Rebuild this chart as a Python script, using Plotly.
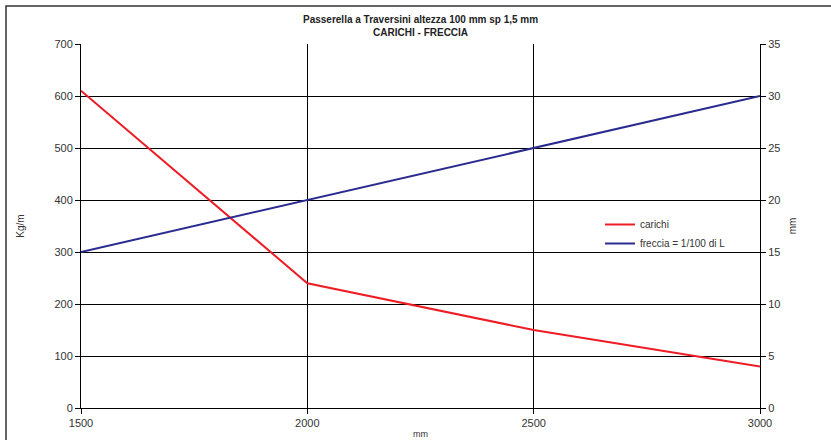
import plotly.graph_objects as go

lengths = [1500, 2000, 2500, 3000]
carichi = [610, 240, 150, 80]
freccia = [15, 20, 25, 30]

title_lines = ["Passerella a Traversini altezza 100 mm sp 1,5 mm", "CARICHI - FRECCIA"]

font_family = "Liberation Sans, Arial, sans-serif"

L, R, T, B = 81, 71, 44, 32
W, H = 831, 440
pw, ph = W - L - R, H - T - B

fig = go.Figure()
fig.add_trace(go.Scatter(x=lengths, y=carichi, mode="lines", name="carichi",
                         line=dict(color="#ee1c25", width=2)))
fig.add_trace(go.Scatter(x=lengths, y=freccia, mode="lines", name="freccia = 1/100 di L",
                         line=dict(color="#2b2b8f", width=2), yaxis="y2"))

fig.update_layout(
    width=W, height=H,
    margin=dict(l=L, r=R, t=T, b=B, autoexpand=False),
    paper_bgcolor="white", plot_bgcolor="white",
    font=dict(family=font_family, size=11, color="#333"),
    showlegend=True,
    legend=dict(x=(600 - L) / pw, y=(H - B - 210) / ph, xanchor="left", yanchor="top",
                bgcolor="rgba(0,0,0,0)", font=dict(size=10, color="#333"),
                tracegroupgap=0, itemwidth=30),
    xaxis=dict(range=[1500, 3000], tickvals=[1500, 2000, 2500, 3000],
               showgrid=True, gridcolor="#000", gridwidth=1, automargin=False,
               showline=True, linecolor="#000", linewidth=1,
               ticks="outside", ticklen=5, tickcolor="#000",
               tickfont=dict(size=11, color="#333"), zeroline=False,
               title=dict(text="mm", font=dict(size=9, color="#333"), standoff=2)),
    yaxis=dict(range=[0, 700], dtick=100, showgrid=True, gridcolor="#000", gridwidth=1,
               showline=True, linecolor="#000", linewidth=1, automargin=False,
               ticks="outside", ticklen=5, tickcolor="#000",
               tickfont=dict(size=11, color="#333"), zeroline=False,
               title=dict(text="Kg/m", font=dict(size=10, color="#333"), standoff=27)),
    yaxis2=dict(range=[0, 35], dtick=5, overlaying="y", side="right", showgrid=False,
                showline=True, linecolor="#000", linewidth=1, automargin=False,
                ticks="outside", ticklen=5, tickcolor="#000",
                tickfont=dict(size=11, color="#333"), zeroline=False,
                title=dict(text="mm", font=dict(size=10, color="#333"), standoff=9)),
    shapes=[dict(type="rect", xref="paper", yref="paper",
                 x0=(6 - L) / pw, x1=(W + 20 - L) / pw,
                 y0=(H - B - (H + 20)) / ph, y1=(H - B - 6) / ph,
                 line=dict(color="#333", width=1.5), layer="below")],
    annotations=[dict(text="<b>" + "<br>".join(title_lines) + "</b>",
                      xref="paper", yref="paper", x=0.5, y=1.0, yshift=4,
                      xanchor="center", yanchor="bottom", showarrow=False,
                      font=dict(size=10, color="#222"))],
)

fig.write_html("out.html", config={"displayModeBar": False},
               post_script="document.body.style.margin='0';document.body.style.overflow='hidden';")
